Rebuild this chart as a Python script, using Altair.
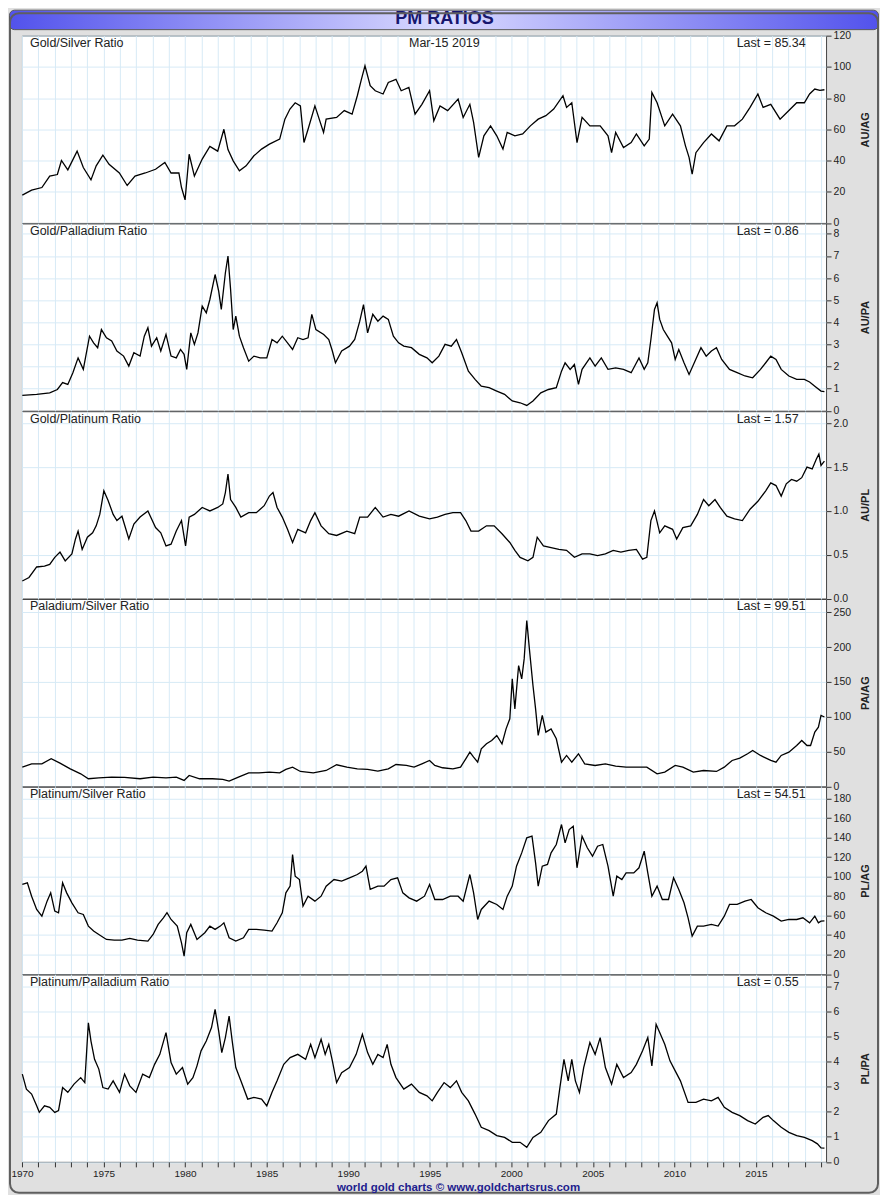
import altair as alt
import pandas as pd

FONT = "Liberation Sans"
W = 805
H = 187.5
X_DOMAIN = [1970, 2019.3]
GRID_YEARS = list(range(1970, 2020))

# ---------------- data ----------------
GS_YEARS = [1970.02,1970.59,1971.22,1971.70,1972.17,1972.42,1972.81,1973.38,1973.76,1974.23,
            1974.55,1974.96,1975.34,1975.97,1976.45,1976.93,1977.56,1978.19,1978.76,1979.14,
            1979.62,1979.78,1980.00,1980.25,1980.57,1981.05,1981.52,1982.00,1982.38,1982.63,
            1982.95,1983.33,1983.74,1984.22,1984.69,1985.17,1985.80,1986.12,1986.43,1986.75,
            1987.07,1987.29,1987.54,1987.96,1988.49,1988.65,1989.29,1989.76,1990.24,1990.56,
            1990.81,1991.03,1991.35,1991.66,1992.14,1992.46,1992.93,1993.25,1993.72,1994.10,
            1994.52,1994.99,1995.25,1995.63,1996.10,1996.74,1997.05,1997.46,1997.69,1998.00,
            1998.32,1998.73,1999.11,1999.49,1999.75,2000.22,2000.70,2001.17,2001.65,2002.12,
            2002.60,2003.17,2003.39,2003.71,2004.03,2004.34,2004.82,2005.45,2005.93,2006.15,
            2006.40,2006.88,2007.35,2007.67,2008.15,2008.46,2008.62,2008.94,2009.41,2009.89,
            2010.37,2010.68,2010.90,2011.09,2011.32,2011.79,2012.27,2012.74,2013.22,2013.69,
            2014.17,2014.64,2015.12,2015.44,2015.91,2016.48,2017.02,2017.50,2017.97,2018.29,
            2018.61,2018.92,2019.2]
GS_VALS = [17.8,21,22.7,30,31,40,34,46,35.5,27.6,
           36.6,43.4,37.6,32,24,30,32,34.4,38.7,32,
           32,22.7,14.8,44,30,40.9,49,46,60,47,
           39.8,33.4,36.6,43,47.3,50.5,53.7,66.5,73,77,
           75,51.5,60,75,58,66.5,67.6,72,69.7,81.5,
           92,100.7,88,84.7,82.6,90,92,84.7,86.8,69.7,
           76,84.7,65.5,75,72,79.4,67.6,76,64.4,42,
           55.8,62.2,55.8,47.3,58,55.8,57,62.2,66.5,68.7,
           73,81.5,74,77,51.5,67.6,62.2,62.2,55.8,45,
           58,48.3,51.5,57,49.4,53.7,83.6,77,62.2,69.7,
           62.2,49.4,42,31.2,45,51.5,57,52.6,62.2,62.2,
           66.5,74,82.6,74,76,66.5,72,77,77,82.6,
           85.8,85,85.34]

GPD_YEARS = [1970.02,1970.90,1971.70,1972.17,1972.49,1972.81,1973.12,1973.44,1973.76,1974.14,
             1974.39,1974.64,1974.87,1975.18,1975.50,1975.82,1976.23,1976.55,1976.86,1977.24,
             1977.50,1977.72,1977.94,1978.26,1978.51,1978.83,1979.14,1979.46,1979.72,1979.94,
             1980.10,1980.35,1980.57,1980.79,1981.05,1981.30,1981.52,1981.84,1982.06,1982.22,
             1982.47,1982.63,1982.79,1982.95,1983.11,1983.33,1983.58,1983.90,1984.22,1984.60,
             1985.01,1985.33,1985.64,1985.96,1986.28,1986.59,1986.91,1987.23,1987.54,1987.77,
             1988.02,1988.50,1988.81,1989.03,1989.22,1989.60,1990.08,1990.40,1990.71,1990.94,
             1991.19,1991.51,1991.82,1992.14,1992.46,1992.77,1993.09,1993.41,1993.88,1994.36,
             1994.83,1995.15,1995.56,1995.94,1996.32,1996.64,1996.96,1997.37,1997.78,1998.16,
             1998.64,1999.11,1999.59,2000.06,2000.54,2000.95,2001.33,2001.81,2002.28,2002.76,
             2003.08,2003.30,2003.61,2003.87,2004.12,2004.34,2004.82,2005.14,2005.52,2005.93,
             2006.40,2006.88,2007.35,2007.83,2008.15,2008.37,2008.56,2008.78,2008.94,2009.10,
             2009.32,2009.57,2009.83,2010.05,2010.27,2010.59,2010.90,2011.22,2011.63,2011.95,
             2012.27,2012.58,2012.90,2013.38,2013.85,2014.33,2014.80,2015.28,2015.60,2015.91,
             2016.23,2016.55,2017.02,2017.50,2017.97,2018.29,2018.61,2018.99,2019.2]
GPD_VALS = [0.69,0.74,0.81,0.96,1.27,1.19,1.72,2.39,1.87,3.37,
            3.07,2.85,3.67,3.30,3.15,2.70,2.47,2.02,2.62,2.47,
            3.37,3.75,2.92,3.30,2.70,3.45,2.47,2.39,2.77,2.55,
            1.87,3.52,3.00,3.52,4.73,4.43,5.03,6.16,5.41,4.58,
            6.23,6.99,5.48,3.67,4.28,3.37,2.85,2.24,2.47,2.39,
            2.39,3.22,3.07,3.37,3.07,2.77,3.30,3.22,3.30,4.36,
            3.67,3.45,3.22,2.70,2.17,2.70,2.92,3.22,4.05,4.80,
            3.52,4.36,4.05,4.28,4.13,3.37,3.07,2.92,2.85,2.55,
            2.39,2.17,2.47,3.00,2.92,3.22,2.62,1.79,1.42,1.11,
            1.04,0.89,0.74,0.44,0.36,0.24,0.44,0.81,0.96,1.04,
            1.79,2.17,1.87,2.09,1.19,1.87,2.39,2.02,2.39,1.87,
            1.94,1.87,1.72,2.39,1.87,2.17,3.22,4.58,4.88,4.13,
            3.67,3.37,3.07,2.32,2.77,2.17,1.64,2.17,2.85,2.47,
            2.70,2.85,2.32,1.87,1.72,1.57,1.49,1.87,2.17,2.47,
            2.32,1.87,1.57,1.42,1.42,1.30,1.11,0.89,0.86]

GPT_YEARS = [1970.02,1970.43,1970.90,1971.38,1971.70,1972.01,1972.33,1972.65,1973.06,1973.28,
             1973.44,1973.69,1974.01,1974.33,1974.55,1974.77,1975.02,1975.28,1975.59,1975.82,
             1976.13,1976.55,1976.86,1977.24,1977.72,1977.94,1978.19,1978.51,1978.83,1979.14,
             1979.46,1979.78,1980.03,1980.25,1980.57,1981.05,1981.52,1982.00,1982.31,1982.47,
             1982.63,1982.79,1983.11,1983.42,1983.90,1984.37,1984.85,1985.17,1985.39,1985.64,
             1985.96,1986.28,1986.59,1986.91,1987.39,1987.70,1987.96,1988.34,1988.81,1989.29,
             1989.92,1990.40,1990.71,1991.19,1991.66,1992.14,1992.62,1993.09,1993.73,1994.36,
             1994.99,1995.47,1995.94,1996.42,1996.89,1997.21,1997.53,1998.00,1998.48,1998.95,
             1999.43,1999.91,2000.22,2000.54,2001.02,2001.33,2001.59,2001.97,2002.44,2002.92,
             2003.39,2003.87,2004.34,2004.82,2005.29,2005.77,2006.25,2006.72,2007.20,2007.67,
             2008.05,2008.31,2008.56,2008.78,2009.10,2009.41,2009.89,2010.14,2010.52,2011.00,
             2011.41,2011.79,2012.11,2012.49,2012.81,2013.22,2013.69,2014.17,2014.64,2015.12,
             2015.60,2015.91,2016.23,2016.55,2016.86,2017.18,2017.50,2017.81,2018.13,2018.45,
             2018.70,2018.86,2018.99,2019.2]
GPT_VALS = [0.20,0.24,0.36,0.37,0.39,0.47,0.53,0.43,0.51,0.68,
            0.77,0.56,0.70,0.75,0.83,0.96,1.23,1.12,0.96,0.89,
            0.94,0.68,0.85,0.93,1.00,0.91,0.81,0.75,0.60,0.62,
            0.77,0.89,0.60,0.93,0.96,1.04,1.00,1.04,1.08,1.21,
            1.42,1.13,1.04,0.93,0.98,0.98,1.06,1.17,1.21,1.04,
            0.93,0.79,0.64,0.79,0.75,0.89,0.98,0.83,0.74,0.72,
            0.77,0.74,0.93,0.93,1.04,0.93,0.96,0.94,1.00,0.94,
            0.91,0.93,0.96,0.98,0.98,0.89,0.77,0.77,0.83,0.83,
            0.74,0.64,0.55,0.47,0.43,0.47,0.70,0.60,0.58,0.56,
            0.55,0.47,0.51,0.51,0.49,0.51,0.55,0.53,0.55,0.56,
            0.45,0.47,0.89,1.00,0.75,0.83,0.79,0.68,0.81,0.83,
            0.96,1.13,1.06,1.13,1.04,0.94,0.91,0.89,1.02,1.11,
            1.23,1.32,1.29,1.17,1.31,1.36,1.34,1.38,1.50,1.48,
            1.59,1.65,1.52,1.57]

PAAG_YEARS = [1970.02,1970.59,1971.22,1971.79,1972.33,1972.96,1973.60,1974.07,1974.71,1975.50,
              1976.29,1977.24,1978.04,1978.83,1979.46,1979.94,1980.25,1980.89,1981.68,1982.31,
              1982.70,1983.27,1983.90,1984.53,1985.17,1985.80,1986.18,1986.59,1987.07,1987.86,
              1988.65,1989.29,1989.92,1990.56,1991.19,1991.82,1992.46,1992.93,1993.57,1994.04,
              1994.52,1994.99,1995.31,1995.79,1996.42,1996.89,1997.21,1997.46,1997.69,1997.94,
              1998.16,1998.48,1998.80,1999.11,1999.43,1999.68,1999.91,2000.06,2000.22,2000.45,
              2000.64,2000.79,2000.95,2001.11,2001.33,2001.49,2001.65,2001.90,2002.12,2002.44,
              2002.76,2003.08,2003.39,2003.71,2004.12,2004.50,2005.14,2005.77,2006.40,2007.04,
              2007.67,2008.31,2008.94,2009.41,2010.05,2010.52,2011.16,2011.79,2012.58,2013.06,
              2013.54,2014.01,2014.49,2014.80,2015.28,2015.91,2016.23,2016.55,2017.02,2017.50,
              2017.81,2018.13,2018.35,2018.61,2018.83,2018.99,2019.2]
PAAG_VALS = [27.5,32.3,32.3,39.5,33.3,25.1,17.9,10.8,12.2,13.2,
             12.7,10.8,13.2,12.2,13.2,8.4,15.5,10.8,10.8,9.8,
             7.4,13.2,19.4,19.4,20.3,19.4,24.2,27.5,21.3,19.4,
             22.7,30.9,27.5,25.1,24.2,21.8,25.1,31.3,29.9,27.5,
             32.3,37.1,29.9,26.6,25.1,27.5,39.5,49.0,41.9,34.7,
             53.8,61.0,65.8,73.0,61.0,82.5,96.9,154.3,111.2,173.4,
             154.3,183.0,238.0,197.4,144.7,111.2,73.0,101.7,77.8,82.5,
             68.2,34.7,44.3,34.7,46.7,32.3,29.9,32.3,28.9,27.5,
             27.5,27.5,17.9,20.3,29.9,27.5,20.3,22.7,21.3,27.5,
             37.1,40.4,46.7,51.4,44.3,37.1,34.7,44.3,49.0,58.6,
             65.8,58.6,58.6,77.8,84.9,101.7,99.51]

PTAG_YEARS = [1970.02,1970.33,1970.59,1970.90,1971.22,1971.54,1971.76,1972.01,1972.24,1972.49,
              1972.74,1973.06,1973.44,1973.76,1974.07,1974.39,1974.71,1975.18,1975.66,1976.13,
              1976.61,1977.08,1977.72,1978.04,1978.35,1978.67,1978.89,1979.14,1979.52,1979.78,
              1979.94,1980.10,1980.35,1980.73,1981.21,1981.52,1981.84,1982.16,1982.38,1982.70,
              1983.11,1983.58,1983.90,1984.37,1984.85,1985.33,1985.64,1985.96,1986.18,1986.44,
              1986.59,1986.75,1987.01,1987.23,1987.54,1987.96,1988.34,1988.65,1989.13,1989.60,
              1990.08,1990.56,1990.87,1991.09,1991.35,1991.82,1992.20,1992.62,1993.03,1993.35,
              1993.73,1994.20,1994.68,1994.99,1995.31,1995.79,1996.26,1996.74,1997.05,1997.46,
              1997.69,1997.94,1998.16,1998.64,1999.11,1999.49,1999.75,2000.06,2000.32,2000.64,
              2000.95,2001.27,2001.49,2001.65,2001.90,2002.22,2002.44,2002.76,2003.08,2003.30,
              2003.55,2003.80,2004.03,2004.34,2004.66,2004.98,2005.29,2005.61,2005.93,2006.25,
              2006.47,2006.78,2007.04,2007.51,2007.83,2008.15,2008.37,2008.62,2008.94,2009.26,
              2009.64,2009.95,2010.27,2010.59,2010.84,2011.09,2011.41,2011.79,2012.27,2012.68,
              2013.06,2013.38,2013.85,2014.33,2014.71,2015.12,2015.60,2016.07,2016.55,2017.02,
              2017.50,2017.88,2018.29,2018.61,2018.83,2018.99,2019.2]
PTAG_VALS = [91.9,93.6,79.9,66.3,59.4,74.8,83.3,64.6,62.9,93.6,
             83.3,73.1,62.9,61.1,49.2,44.1,40.6,35.5,34.8,34.8,
             36.6,34.8,33.8,40.6,50.9,57.7,62.9,56.0,49.2,32.1,
             18.4,42.4,50.9,35.5,42.4,49.2,45.8,49.2,52.6,37.2,
             33.8,37.2,45.8,45.8,45.1,44.1,52.6,62.9,83.3,90.2,
             122.6,100.4,97.0,69.7,79.9,74.8,79.9,90.2,97.0,95.3,
             98.7,102.1,105.5,110.7,86.8,90.2,90.2,97.0,98.7,83.3,
             78.2,74.8,79.9,91.9,76.5,76.5,79.9,79.9,74.8,102.1,
             83.3,56.0,66.3,74.8,71.4,66.3,79.9,90.2,110.7,124.3,
             139.7,141.4,114.1,90.2,110.7,112.4,124.3,132.9,153.4,134.6,
             148.2,151.7,109.0,141.4,129.5,120.9,131.2,132.9,110.7,79.9,
             100.4,97.0,103.8,103.8,109.0,126.0,103.8,79.9,90.2,76.5,
             76.5,98.7,86.8,73.1,57.7,38.9,49.2,49.2,50.9,49.2,
             59.4,71.4,71.4,74.8,76.5,68.0,62.9,59.4,54.3,56.0,
             56.0,57.7,52.6,59.4,52.6,54.3,54.51]

PTPA_YEARS = [1970.02,1970.27,1970.59,1970.90,1971.06,1971.38,1971.70,1972.01,1972.24,1972.49,
              1972.81,1973.19,1973.60,1973.85,1974.07,1974.23,1974.45,1974.71,1974.96,1975.28,
              1975.59,1975.98,1976.29,1976.61,1976.99,1977.40,1977.81,1978.13,1978.45,1978.83,
              1979.14,1979.46,1979.84,1980.16,1980.48,1980.73,1980.98,1981.30,1981.62,1981.84,
              1982.06,1982.25,1982.47,1982.70,1982.89,1983.11,1983.42,1983.84,1984.22,1984.69,
              1985.01,1985.33,1985.64,1986.05,1986.44,1986.91,1987.39,1987.70,1987.96,1988.34,
              1988.59,1988.81,1989.03,1989.29,1989.60,1990.08,1990.49,1990.87,1991.19,1991.51,
              1991.82,1992.14,1992.39,1992.62,1992.93,1993.41,1993.88,1994.36,1994.83,1995.15,
              1995.47,1995.88,1996.26,1996.64,1996.96,1997.37,1997.78,1998.16,1998.64,1999.11,
              1999.59,2000.06,2000.54,2000.95,2001.33,2001.81,2002.28,2002.76,2002.98,2003.23,
              2003.49,2003.71,2003.93,2004.18,2004.44,2004.82,2005.14,2005.45,2005.77,2006.15,
              2006.47,2006.88,2007.35,2007.67,2008.05,2008.37,2008.62,2008.88,2009.10,2009.41,
              2009.73,2010.05,2010.37,2010.84,2011.32,2011.79,2012.27,2012.68,2013.06,2013.54,
              2014.01,2014.49,2014.96,2015.44,2015.75,2016.07,2016.55,2017.02,2017.50,2017.97,
              2018.45,2018.77,2018.99,2019.2]
PTPA_VALS = [3.51,2.91,2.71,2.24,1.98,2.24,2.18,1.98,2.05,2.97,
             2.78,3.11,3.37,3.17,5.56,4.83,4.10,3.71,2.97,2.91,
             3.24,2.78,3.51,3.04,2.78,3.51,3.37,3.90,4.30,5.17,
             3.97,3.51,3.77,3.11,3.37,3.84,4.44,4.83,5.37,6.10,
             5.23,4.37,4.97,5.83,4.83,3.77,3.24,2.51,2.58,2.51,
             2.24,2.78,3.24,3.90,4.17,4.30,4.10,4.70,4.17,4.90,
             4.30,4.70,4.04,3.17,3.57,3.77,4.30,5.10,4.37,3.90,
             4.30,4.17,4.70,3.90,3.37,2.91,3.11,2.78,2.64,2.44,
             2.78,3.17,2.97,3.24,2.78,2.44,1.91,1.38,1.25,1.05,
             0.98,0.78,0.78,0.58,0.98,1.18,1.65,1.91,2.97,4.10,
             3.24,4.10,3.24,2.78,3.77,4.77,4.30,4.97,3.77,3.11,
             3.90,3.37,3.57,3.90,4.44,4.97,3.84,5.50,5.17,4.70,
             4.04,3.64,3.24,2.38,2.38,2.51,2.44,2.58,2.18,1.98,
             1.85,1.65,1.51,1.78,1.85,1.65,1.38,1.18,1.05,0.98,
             0.85,0.72,0.56,0.55]

PANEL_NAMES = ["Gold/Silver Ratio", "Gold/Palladium Ratio", "Gold/Platinum Ratio",
               "Paladium/Silver Ratio", "Platinum/Silver Ratio", "Platinum/Palladium Ratio"]
LAST_TEXT = ["Last = 85.34", "Last = 0.86", "Last = 1.57", "Last = 99.51", "Last = 54.51", "Last = 0.55"]
AXIS_TITLES = ["AU/AG", "AU/PA", "AU/PL", "PA/AG", "PL/AG", "PL/PA"]
Y_TICKS = [[0, 20, 40, 60, 80, 100, 120],
           [0, 1, 2, 3, 4, 5, 6, 7, 8],
           [0, 0.5, 1.0, 1.5, 2.0],
           [0, 50, 100, 150, 200, 250],
           [0, 20, 40, 60, 80, 100, 120, 140, 160, 180],
           [0, 1, 2, 3, 4, 5, 6, 7]]
Y_MAX = [120, 8.47, 2.139, 269, 192.1, 7.49]
Y_FMT = ["d", "d", ".1f", "d", "d", "d"]
SERIES = [(GS_YEARS, GS_VALS), (GPD_YEARS, GPD_VALS), (GPT_YEARS, GPT_VALS),
          (PAAG_YEARS, PAAG_VALS), (PTAG_YEARS, PTAG_VALS), (PTPA_YEARS, PTPA_VALS)]
DATE_TEXT = "Mar-15 2019"
TITLE_TEXT = "PM RATIOS"
FOOTER_TEXT = "world gold charts \u00a9 www.goldchartsrus.com"

TEXT_COLOR = "#222222"
PANEL_TOP = 26.0            # canvas y of first plot top
FRAME_BOTTOM = 1182.0       # canvas y of outer frame bottom
FOOTER_BASELINE = 1180.0    # canvas y of footer baseline
RIGHT_EDGE = 857.0          # plot-x of outer frame right edge


def text_layer(txt, x, y, align="left", size=12.5, weight="normal", color=TEXT_COLOR,
               baseline="alphabetic"):
    return alt.Chart(pd.DataFrame({"t": [txt]})).mark_text(
        align=align, baseline=baseline, font=FONT, fontSize=size,
        fontWeight=weight, color=color
    ).encode(x=alt.value(x), y=alt.value(y), text="t:N")


def make_panel(i):
    years, vals = SERIES[i]
    df = pd.DataFrame(list(zip(years, vals)), columns=["year", "value"])
    last = i == len(SERIES) - 1
    if last:
        xaxis = alt.Axis(values=GRID_YEARS, grid=True, labels=True, ticks=True, tickSize=5,
                         tickColor="#333333", domain=False, title=None, format="d",
                         labelExpr="datum.value % 5 === 0 ? datum.label : ''",
                         labelFont=FONT, labelFontSize=10, labelColor=TEXT_COLOR,
                         labelPadding=1.5, labelFlush=False, labelOverlap=False)
    else:
        xaxis = alt.Axis(values=GRID_YEARS, grid=True, labels=False, ticks=False,
                         domain=False, title=None)
    yaxis = alt.Axis(orient="right", values=Y_TICKS[i], format=Y_FMT[i], grid=True,
                     domain=False, ticks=True, tickSize=5, tickColor="#333333",
                     labelFont=FONT, labelFontSize=10.5, labelColor=TEXT_COLOR,
                     labelPadding=2, labelFlush=False, labelOverlap=False,
                     title=AXIS_TITLES[i], titleFont=FONT, titleFontSize=11,
                     titleFontWeight="bold", titleColor=TEXT_COLOR, titleAngle=270,
                     titleX=39, titleY=H / 2, titleAlign="center", titleBaseline="middle")
    line = alt.Chart(df).mark_line(color="#000000", strokeWidth=1.3).encode(
        x=alt.X("year:Q", scale=alt.Scale(domain=X_DOMAIN, nice=False, zero=False), axis=xaxis),
        y=alt.Y("value:Q", scale=alt.Scale(domain=[0, Y_MAX[i]], nice=False, zero=False), axis=yaxis),
    )
    layers = []
    if i == 0:
        grad = alt.LinearGradient(
            gradient="linear", x1=0, x2=1, y1=0, y2=0,
            stops=[alt.GradientStop(color="#5252ec", offset=0),
                   alt.GradientStop(color="#dadaff", offset=0.5),
                   alt.GradientStop(color="#5252ec", offset=1)])
        banner = alt.Chart(pd.DataFrame({"k": [0]})).mark_rect(
            color=grad, stroke="#5a5a5a", strokeWidth=1, cornerRadius=5
        ).encode(x=alt.value(-12.5), x2=alt.value(RIGHT_EDGE + 0.5),
                 y=alt.value(-PANEL_TOP + 0.5), y2=alt.value(-6))
        layers.append(banner)
        layers.append(text_layer(TITLE_TEXT, 423, -PANEL_TOP + 0.5, align="center", size=18,
                                 weight="bold", color="#16166e", baseline="top"))
    layers.append(line)
    layers.append(text_layer(PANEL_NAMES[i], 8, 11.5))
    layers.append(text_layer(LAST_TEXT[i], 715.5, 11.5))
    if i == 0:
        layers.append(text_layer(DATE_TEXT, 387.5, 11.5))
    if last:
        top6 = PANEL_TOP + 5 * H
        frame = alt.Chart(pd.DataFrame({"k": [0]})).mark_rect(
            fill="transparent", stroke="#5f5f5f", strokeWidth=2, cornerRadius=9
        ).encode(x=alt.value(-12), x2=alt.value(RIGHT_EDGE),
                 y=alt.value(1 - top6), y2=alt.value(FRAME_BOTTOM - top6))
        layers.append(frame)
        layers.append(text_layer(FOOTER_TEXT, 437, FOOTER_BASELINE - top6, align="center",
                                 size=11.5, weight="bold", color="#20208e"))
    return alt.layer(*layers).properties(width=W, height=H)


panels = [make_panel(i) for i in range(len(SERIES))]

chart = alt.vconcat(*panels, spacing=0, bounds="flush").properties(
    background="#e0e0e0", padding=0
).configure_view(
    stroke="#444444", strokeWidth=1, fill="white"
).configure_axis(
    gridColor="#d7eaf6", gridWidth=1
)

chart.save("out.html", embed_options={"renderer": "svg", "actions": False})
